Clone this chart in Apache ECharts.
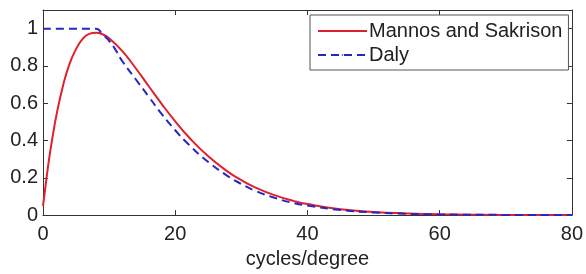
<!DOCTYPE html>
<html>
<head>
<meta charset="utf-8">
<script src="https://cdn.jsdelivr.net/npm/echarts@6/dist/echarts.min.js"></script>
<style>
html, body { margin: 0; padding: 0; background: #fff; }
#chart { width: 586px; height: 274px; }
</style>
</head>
<body>
<div id="chart"></div>
<script>
// Mannos and Sakrison curve
const freqMS = [0, 0.5, 1, 1.5, 2, 3, 4, 5, 6, 7, 8, 9, 10, 12, 14, 16, 18, 20, 22, 25, 28, 30, 32, 35, 38, 40, 45, 50, 55, 60, 70, 80]
const valMS = [0.05, 0.19, 0.32, 0.43, 0.53, 0.69, 0.81, 0.89, 0.945, 0.972, 0.978, 0.97, 0.948, 0.879, 0.789, 0.691, 0.594, 0.503, 0.42, 0.315, 0.232, 0.187, 0.15, 0.107, 0.075, 0.059, 0.032, 0.017, 0.009, 0.0045, 0.001, 0.0003]

// Daly curve
const freqDaly = [0, 8, 9, 10, 11, 12, 14, 16, 18, 20, 22, 25, 28, 30, 32, 35, 38, 40, 45, 50, 55, 60, 70, 80]
const valDaly = [1, 1, 0.97, 0.935, 0.885, 0.825, 0.73, 0.635, 0.54, 0.455, 0.38, 0.285, 0.208, 0.167, 0.132, 0.093, 0.064, 0.051, 0.027, 0.014, 0.007, 0.0035, 0.001, 0]

const xTicks = { min: 0, max: 80, interval: 20 }
const yTicks = { min: 0, max: 1.1, interval: 0.2 }

const font = 'Liberation Sans'
const axisColor = '#333'

const chart = echarts.init(document.getElementById('chart'))

const baseAxis = {
  axisLine: { show: true, onZero: false, lineStyle: { color: axisColor, width: 1 } },
  axisTick: { show: true, inside: true, length: 5, lineStyle: { color: axisColor } },
  splitLine: { show: false }
}

const option = {
  animation: false,
  grid: { left: 43, right: 13, top: 10, bottom: 53 },
  legend: {
    orient: 'vertical',
    left: 310,
    top: 15,
    padding: [6, 6, 5, 7],
    itemGap: 4,
    itemWidth: 49,
    itemHeight: 2,
    backgroundColor: '#fff',
    borderColor: '#555',
    borderWidth: 1,
    borderRadius: 0,
    textStyle: { fontFamily: font, fontSize: 20, color: '#222', padding: [0, 0, 0, -3] },
    data: ['Mannos and Sakrison', 'Daly']
  },
  xAxis: [
    Object.assign({}, baseAxis, {
      type: 'value',
      min: xTicks.min, max: xTicks.max, interval: xTicks.interval,
      name: 'cycles/degree',
      nameLocation: 'middle',
      nameGap: 32,
      nameTextStyle: { fontFamily: font, fontSize: 20, color: '#222' },
      axisLabel: { fontFamily: font, fontSize: 20, color: '#222', margin: 9 }
    }),
    Object.assign({}, baseAxis, {
      type: 'value', position: 'top',
      min: xTicks.min, max: xTicks.max, interval: xTicks.interval,
      axisLabel: { show: false }
    })
  ],
  yAxis: [
    Object.assign({}, baseAxis, {
      type: 'value',
      min: yTicks.min, max: yTicks.max, interval: yTicks.interval,
      axisLabel: {
        fontFamily: font, fontSize: 20, color: '#222', margin: 5,
        showMaxLabel: false,
        formatter: v => (v > 1.05 ? '' : String(Math.round(v * 10) / 10))
      }
    }),
    Object.assign({}, baseAxis, {
      type: 'value', position: 'right',
      min: yTicks.min, max: yTicks.max, interval: yTicks.interval,
      axisLabel: { show: false }
    })
  ],
  series: [
    {
      name: 'Mannos and Sakrison',
      type: 'line',
      symbol: 'none',
      smooth: 0.5,
      color: '#e0202c',
      lineStyle: { color: '#e0202c', width: 2 },
      data: freqMS.map((f, i) => [f, valMS[i]])
    },
    {
      name: 'Daly',
      type: 'line',
      symbol: 'none',
      smooth: 0.5,
      color: '#2626c4',
      lineStyle: { color: '#2626c4', width: 2, type: [8, 5] },
      data: freqDaly.map((f, i) => [f, valDaly[i]])
    }
  ]
}

chart.setOption(option)
</script>
</body>
</html>
